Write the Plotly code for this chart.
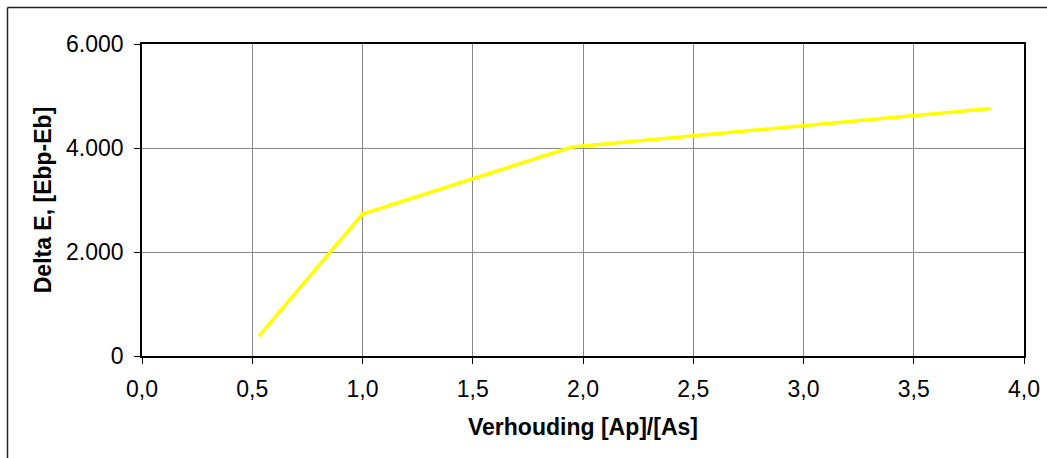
import plotly.graph_objects as go

# Ratio [Ap]/[As] versus Delta E
ratio = [0.53, 1.0, 1.95, 3.85]
delta_e = [380, 2730, 4020, 4760]

x_ticks = [0.0, 0.5, 1.0, 1.5, 2.0, 2.5, 3.0, 3.5, 4.0]
y_ticks = [0, 2000, 4000, 6000]

FONT = "Liberation Sans, Arial, sans-serif"

fig = go.Figure()
fig.add_trace(go.Scatter(
    x=ratio, y=delta_e, mode="lines",
    line=dict(color="#FFFF00", width=3.5),
    hoverinfo="x+y", showlegend=False,
))

axis_common = dict(
    showline=True, linecolor="black", linewidth=1.5, mirror=True,
    showgrid=True, gridcolor="#8a8a8a", gridwidth=1,
    ticks="outside", ticklen=6, tickcolor="black", tickwidth=1,
    zeroline=False,
    tickfont=dict(family=FONT, size=23, color="black"),
)

fig.update_xaxes(
    range=[0, 4], tickvals=x_ticks, tickformat=".1f",
    ticklabelstandoff=6,
    title=dict(text="<b>Verhouding [Ap]/[As]</b>", standoff=18,
               font=dict(family=FONT, size=23, color="black")),
    **axis_common,
)
fig.update_yaxes(
    range=[0, 6000], tickvals=y_ticks, tickformat=",d",
    ticklabelstandoff=6,
    title=dict(text="<b>Delta E, [Ebp-Eb]</b>", standoff=8,
               font=dict(family=FONT, size=23, color="black")),
    **axis_common,
)

# Outer chart frame (top and left edges)
frame = dict(type="line", xref="paper", yref="paper",
             line=dict(color="#222222", width=1.5), layer="above")
fig.add_shape(x0=-0.1525, x1=1.5, y0=1.117, y1=1.117, **frame)
fig.add_shape(x0=-0.1525, x1=-0.1525, y0=1.117, y1=-1.0, **frame)

fig.update_layout(
    width=1047, height=458,
    margin=dict(l=142, r=23, t=44, b=102, autoexpand=False),
    paper_bgcolor="white", plot_bgcolor="white",
    separators=",.",
    font=dict(family=FONT, color="black"),
)

fig.write_html("out.html", config={"displayModeBar": False})
